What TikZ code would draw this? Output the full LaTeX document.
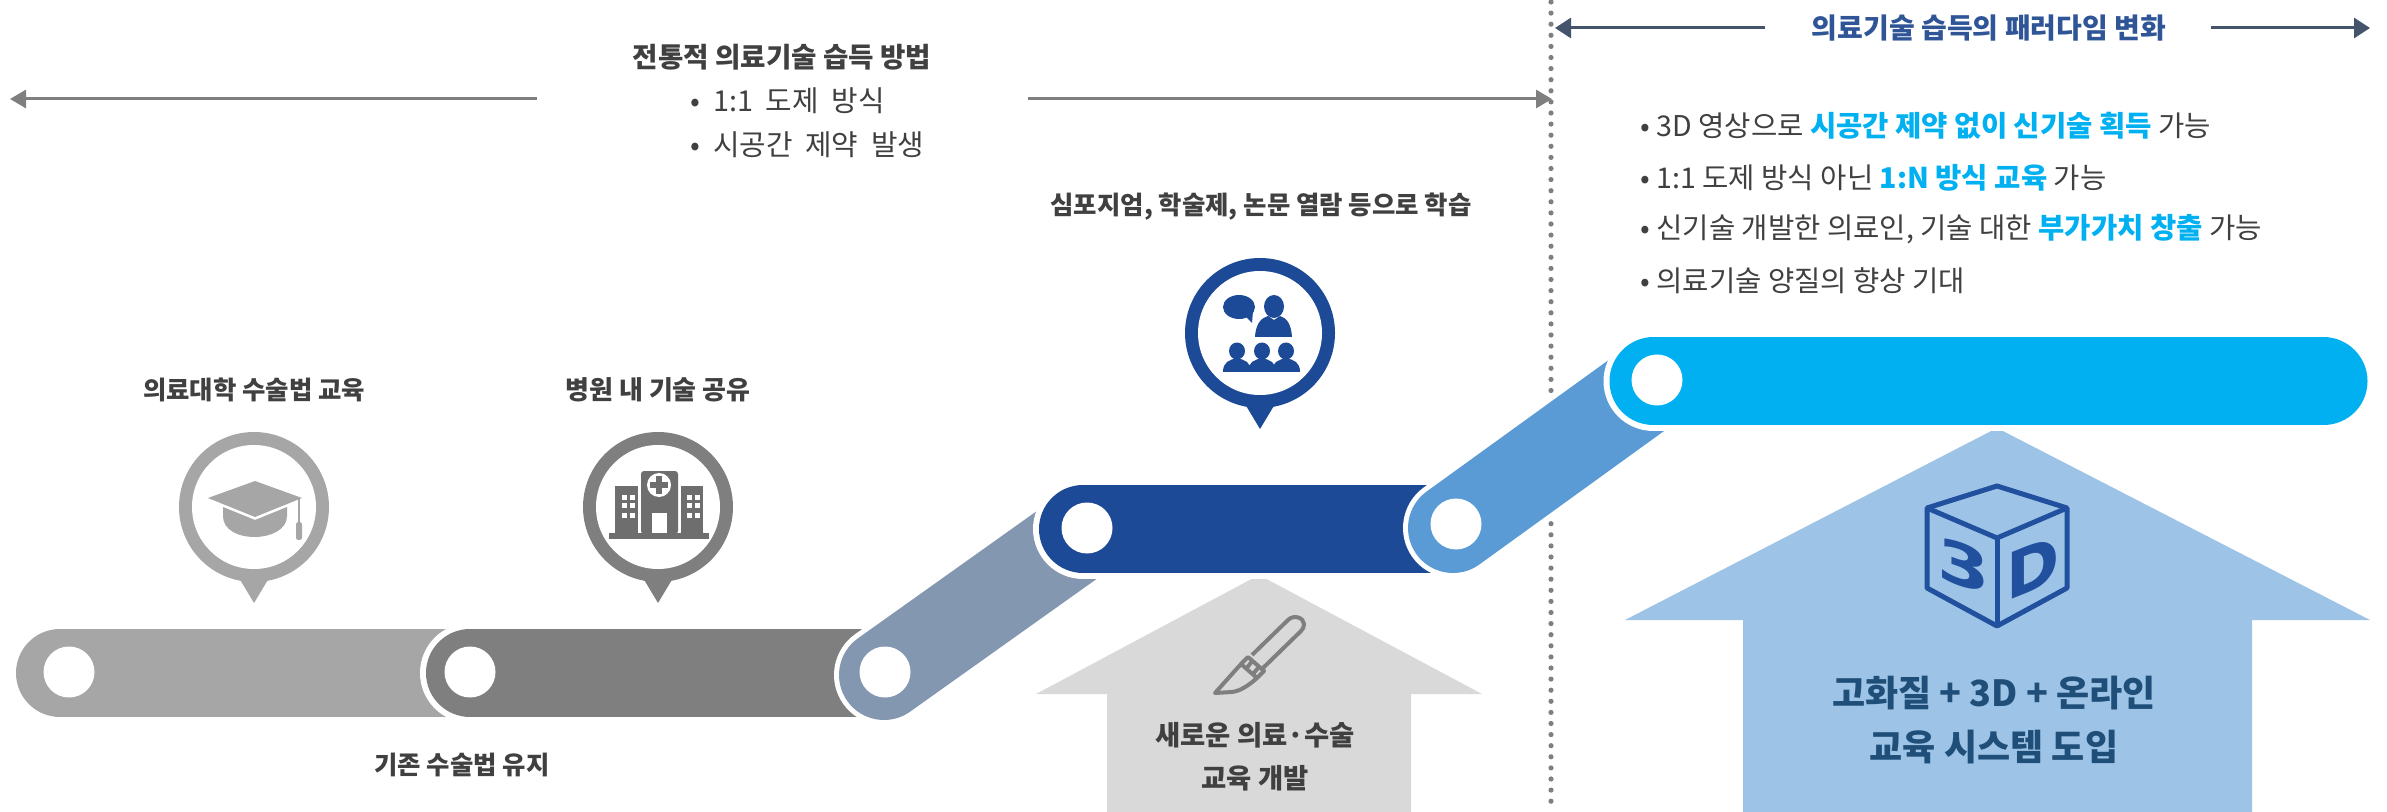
\documentclass[tikz,border=0pt]{standalone}
\usepackage{fontspec}
\setmainfont{Noto Sans CJK KR}
\newfontfamily\krw[WordSpace=2]{Noto Sans CJK KR}
\newfontfamily\heavy{DejaVu Sans}
\usetikzlibrary{arrows.meta}
\definecolor{txt}{HTML}{404040}
\definecolor{gone}{HTML}{A6A6A6}
\definecolor{gtwo}{HTML}{7F7F7F}
\definecolor{slate}{HTML}{8497B0}
\definecolor{navy}{HTML}{1D4A97}
\definecolor{midblue}{HTML}{5B9BD5}
\definecolor{cyanb}{HTML}{00B0F0}
\definecolor{lightg}{HTML}{D9D9D9}
\definecolor{lightb}{HTML}{9DC3E6}
\definecolor{headblue}{HTML}{2F5597}
\definecolor{arrdark}{HTML}{44546A}
\definecolor{deep}{HTML}{1F4E79}
\definecolor{hosp}{HTML}{6E6E6E}
\definecolor{cube}{HTML}{21509F}
\tikzset{
  tube/.style={line width=44pt,line cap=round},
  tubeedge/.style={white,line width=50pt,line cap=round},
  hole/.style={circle,fill=white,inner sep=0pt,minimum size=25.5pt},
  head/.style={font=\fontsize{12.7}{15}\selectfont\bfseries,text=txt,inner sep=0pt},
  listline/.style={font=\fontsize{14.3}{16}\selectfont,text=txt,inner sep=0pt,anchor=west},
  bignote/.style={font=\fontsize{13.7}{17}\selectfont\bfseries,inner sep=0pt},
  hugenote/.style={font=\fontsize{18}{20}\selectfont\bfseries,text=deep,inner sep=0pt},
  grayarrow/.style={gtwo,line width=1.5pt,-{Triangle[length=8pt,width=9pt]}},
  darkarrow/.style={arrdark,line width=1.5pt,-{Triangle[length=8pt,width=10pt]}},
  dots/.style={gtwo,line width=2.6pt,line cap=round,dash pattern=on 0pt off 5.55pt},
}
\begin{document}
\begin{tikzpicture}[x=0.5pt,y=-0.5pt]
\useasboundingbox (0,0) rectangle (2387,812);
% dotted divider
\coordinate (divtop) at (1551,2);
\coordinate (divbot) at (1551,812);
\draw[dots] (divtop) -- (divbot);
% upward arrows
\fill[lightg] (1259,575) -- (1482,694) -- (1411,694) -- (1411,812) -- (1107,812) -- (1107,694) -- (1036,694) -- cycle;
\fill[lightb] (1997,428) -- (2370,620) -- (2252,620) -- (2252,812) -- (1743,812) -- (1743,620) -- (1625,620) -- cycle;
% tubes
\coordinate (a1) at (60,673); \coordinate (a2) at (470,673);
\coordinate (b1) at (470,673); \coordinate (b2) at (885,673);
\coordinate (c1) at (884,675); \coordinate (c2) at (1085,532);
\coordinate (d1) at (1083,529); \coordinate (d2) at (1455,529);
\coordinate (e1) at (1453,528); \coordinate (e2) at (1655,382);
\coordinate (f1) at (1653.5,381.5); \coordinate (f2) at (2323.5,381.5);
\draw[tube,gone] (a1) -- (a2);
\draw[tubeedge] (b1) -- (b2);
\draw[tube,gtwo] (b1) -- (b2);
\draw[tubeedge] (c1) -- (c2);
\draw[tube,line width=45pt,slate] (c1) -- (c2);
\draw[tubeedge] (d1) -- (d2);
\draw[tube,navy] (d1) -- (d2);
\draw[tubeedge] (e1) -- (e2);
\draw[tube,line width=45pt,midblue] (e1) -- (e2);
\draw[tubeedge] (f1) -- (f2);
\draw[tube,cyanb] (f1) -- (f2);
\node[hole] (h1) at (69,672) {};
\node[hole] (h2) at (470,672) {};
\node[hole] (h3) at (885,672) {};
\node[hole] (h4) at (1087,528) {};
\node[hole] (h5) at (1456,524) {};
\node[hole] (h6) at (1657,380) {};
% pins
\foreach \px/\py/\tipy/\basey/\col in {254/507/603/578/gone,658/507/603/578/gtwo,1260/333/429/404/navy}{
  \fill[\col] (\px,\py) circle[radius=75];
  \fill[\col] (\px-15,\basey) -- (\px+15,\basey) -- (\px,\tipy) -- cycle;
  \fill[white] (\px,\py) circle[radius=62];
}
% graduation cap
\fill[gone] (255,481) -- (302,498) -- (255,517) -- (208,498) -- cycle;
\fill[gone] (223,507) -- (255,520) -- (287,507) -- (287,516) .. controls (287,530) and (270,537) .. (255,537) .. controls (238,537) and (223,530) .. (223,516) -- cycle;
\draw[gone,line width=0.7pt] (299,498) -- (299,525);
\fill[gone,rounded corners=1.2pt] (296,522) rectangle (302,540);
% hospital
\fill[hosp] (609,533) rectangle (709,539);
\fill[hosp] (615,486) rectangle (638,533);
\fill[hosp] (681,486) rectangle (703,533);
\fill[hosp,rounded corners=1.5pt] (641,471) rectangle (678,534);
\fill[white] (659,485) circle[radius=12];
\fill[hosp] (656,476) rectangle (662,494);
\fill[hosp] (650,482) rectangle (668,488);
\fill[white] (652,513) rectangle (667,533);
\foreach \wx in {622,630,687,695}{\foreach \wy in {495,503,513}{
  \fill[white] (\wx,\wy) rectangle (\wx+5,\wy+5);}}
% audience
\fill[navy] (1239,307) ellipse[x radius=16,y radius=12];
\fill[navy] (1245,316) -- (1253,311) -- (1252,323) -- cycle;
\fill[navy] (1274,306.5) ellipse[x radius=10,y radius=11.5];
\fill[navy] (1255,337) .. controls (1256,322) and (1262,318) .. (1268,316) -- (1274,320) -- (1280,316) .. controls (1287,318) and (1291,324) .. (1292,337) -- cycle;
\foreach \qx in {1237,1262,1286}{
  \fill[navy] (\qx,351) ellipse[x radius=8,y radius=8.5];
  \fill[navy] (\qx-14,372) .. controls (\qx-14,362) and (\qx-8,360) .. (\qx,358) .. controls (\qx+8,360) and (\qx+14,362) .. (\qx+14,372) -- cycle;
}
% scalpel
\begin{scope}[gtwo,line width=2pt,line join=round]
\draw (1252,655) -- (1288,620) .. controls (1294,614) and (1304,618) .. (1304,624) .. controls (1304,627) and (1303,629) .. (1301,631) -- (1263,668);
\draw (1241,664) -- (1248,657) -- (1264,671) -- (1257,678) -- cycle;
\draw (1246,669) -- (1253,660);
\draw (1252,675) -- (1259,667);
\draw (1241,664) -- (1215,693) -- (1232,692) .. controls (1240,691) and (1248,686) .. (1257,678);
\end{scope}
% 3D cube
\begin{scope}[cube,line width=2.5pt,line join=round]
\draw (1997,486) -- (2067,508) -- (2067,588) -- (1997,626) -- (1927,588) -- (1927,508) -- cycle;
\draw (1927,508) -- (1997,538) -- (2067,508);
\draw (1997,538) -- (1997,626);
\end{scope}
\begin{scope}[shift={(1964,566)},yslant=-0.35,xscale=1.3]
\node[transform shape,text=cube,font=\fontsize{29}{29}\selectfont\heavy\bfseries,inner sep=0pt] (three) {3};
\end{scope}
\begin{scope}[shift={(2033,568)},yslant=0.4]
\node[transform shape,text=cube,font=\fontsize{32}{32}\selectfont\heavy\bfseries,inner sep=0pt] (dee) {D};
\end{scope}
% top arrows
\coordinate (gl0) at (537,99); \coordinate (gl1) at (10,99);
\coordinate (gr0) at (1028,99); \coordinate (gr1) at (1552,99);
\draw[grayarrow] (gl0) -- (gl1);
\draw[grayarrow] (gr0) -- (gr1);
\coordinate (dl0) at (1765,28); \coordinate (dl1) at (1555,28);
\coordinate (dr0) at (2211,28); \coordinate (dr1) at (2370,28);
\draw[darkarrow] (dl0) -- (dl1);
\draw[darkarrow] (dr0) -- (dr1);
% texts
\node[head,font=\fontsize{13.8}{16}\selectfont\bfseries] (t1) at (782,57) {전통적 의료기술 습득 방법};
\node[listline,font=\fontsize{14.4}{16}\selectfont\krw] (t2) at (690,101) {• 1:1 도제 방식};
\node[listline,font=\fontsize{14.4}{16}\selectfont\krw] (t3) at (690,145) {• 시공간 제약 발생};
\node[head,text=headblue,font=\fontsize{14}{16}\selectfont\bfseries] (t4) at (1989,28) {의료기술 습득의 패러다임 변화};
\node[listline] (l1) at (1640,126) {• 3D 영상으로 \textcolor{cyanb}{\bfseries 시공간 제약 없이 신기술 획득} 가능};
\node[listline] (l2) at (1640,178) {• 1:1 도제 방식 아닌 \textcolor{cyanb}{\bfseries 1:N 방식 교육} 가능};
\node[listline] (l3) at (1640,229) {• 신기술 개발한 의료인, 기술 대한 \textcolor{cyanb}{\bfseries 부가가치 창출} 가능};
\node[listline] (l4) at (1640,281) {• 의료기술 양질의 향상 기대};
\node[head] (t5) at (254,390) {의료대학 수술법 교육};
\node[head,font=\fontsize{13}{15}\selectfont\bfseries] (t6) at (658,390) {병원 내 기술 공유};
\node[head] (t7) at (462,765) {기존 수술법 유지};
\node[head] (t8) at (1261,207) {심포지엄, 학술제, 논문 열람 등으로 학습};
\node[bignote,text=txt] (t9) at (1255,735) {새로운 의료·수술};
\node[bignote,text=txt] (t10) at (1255,778) {교육 개발};
\node[hugenote] (t11) at (1994,693) {고화질 + 3D + 온라인};
\node[hugenote] (t12) at (1994,747) {교육 시스템 도입};
\end{tikzpicture}
\end{document}
